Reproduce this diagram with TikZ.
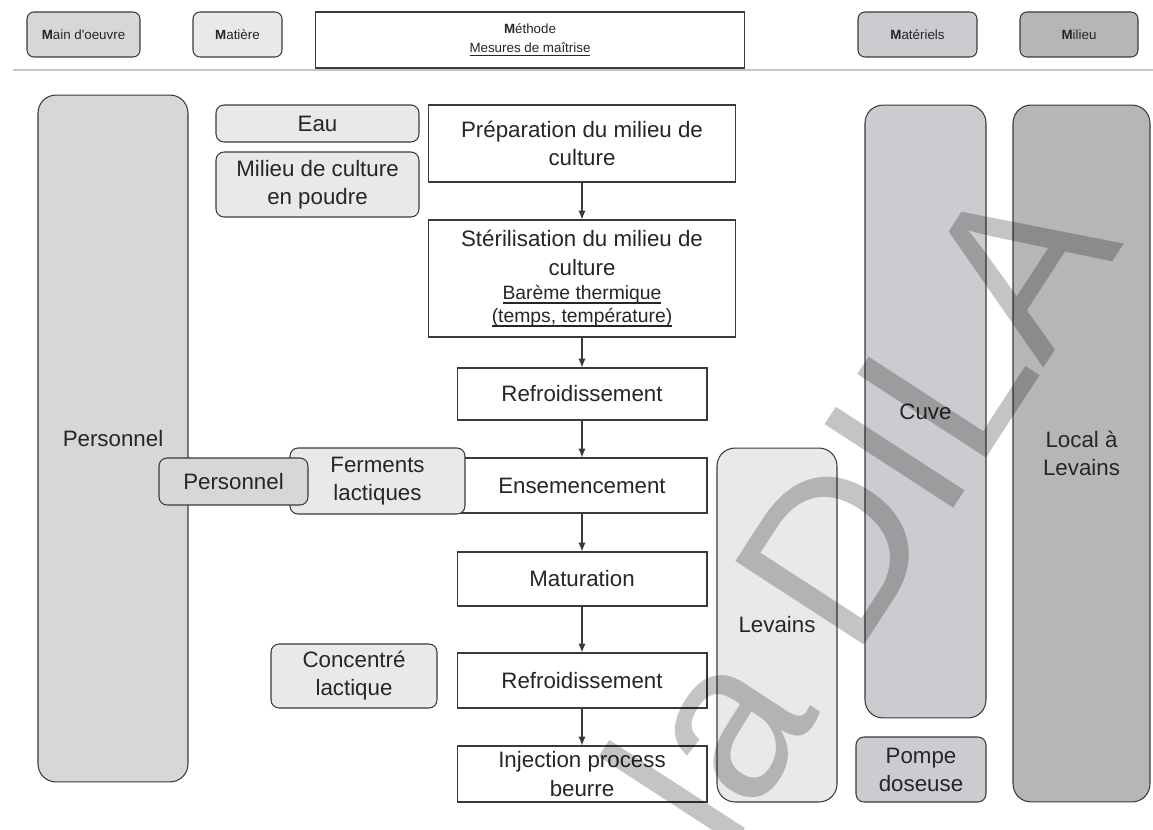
\documentclass[tikz,border=0pt]{standalone}
\usepackage{fontspec}
\setmainfont{Liberation Sans}
\usetikzlibrary{arrows.meta}
\definecolor{mainoeuvre}{HTML}{D6D7D9}
\definecolor{matiere}{HTML}{E8E9EA}
\definecolor{materiel}{HTML}{CBCCCF}
\definecolor{milieu}{HTML}{B5B6B8}
\definecolor{trait}{HTML}{3A3A3A}
\newcommand{\corps}{\fontsize{12.7}{16}\selectfont}
\newcommand{\petit}{\fontsize{11}{14}\selectfont}
\newcommand{\souligne}[1]{\leavevmode\setbox0=\hbox{#1}\rlap{\vrule height -1.3pt depth 2.3pt width \wd0}\box0}

\begin{document}
\begin{tikzpicture}[x=0.02cm, y=-0.02cm, line width=0.6pt,
  every node/.style={draw=trait, inner sep=0pt, align=center, text=black!85, font=\corps},
  entete/.style={rounded corners=0.14cm, minimum height=0.9cm, font=\fontsize{7.6}{10.8}\selectfont},
  etape/.style={fill=white, minimum width=5cm},
  ressource/.style={rounded corners=0.16cm},
  colonne/.style={rounded corners=0.36cm},
  fleche/.style={draw=trait, -{Latex[length=5pt,width=4pt]}}]
\useasboundingbox (0,0) rectangle (1153,829);
\clip (0,0) rectangle (1153,829);
\node[entete, fill=mainoeuvre, minimum width=2.26cm] (hMain) at (83.5,34.5) {\textbf{M}ain d\textquotesingle oeuvre};
\node[entete, fill=matiere, minimum width=1.78cm] (hMatiere) at (237.5,34.5) {\textbf{M}atière};
\node[entete, rounded corners=0pt, fill=white, minimum width=8.6cm, minimum height=1.12cm] (hMethode) at (530,40) {\textbf{M}éthode\\\souligne{Mesures de maîtrise}};
\node[entete, fill=materiel, minimum width=2.38cm] (hMateriel) at (917.5,34.5) {\textbf{M}atériels};
\node[entete, fill=milieu, minimum width=2.36cm] (hMilieu) at (1079,34.5) {\textbf{M}ilieu};
\draw[gray!45, line width=0.8pt] (13,70) -- (1153,70);
\node[colonne, fill=mainoeuvre, minimum width=3cm, minimum height=13.74cm] (personnel) at (113,438.5) {Personnel};
\node[ressource, fill=matiere, minimum width=4.06cm, minimum height=0.74cm] (eau) at (317.5,123.5) {Eau};
\node[ressource, fill=matiere, minimum width=4.06cm, minimum height=1.3cm] (poudre) at (317.5,184.5) {Milieu de culture\\en poudre};
\node[etape, minimum width=6.14cm, minimum height=1.54cm] (prep) at (582,143.5) {Préparation du milieu de\\culture};
\node[etape, minimum width=6.14cm, minimum height=2.34cm] (steril) at (582,278.5) {Stérilisation du milieu de\\culture\\[-2pt]{\petit\souligne{Barème thermique}}\\[-3pt]{\petit\souligne{(temps, température)}}};
\node[etape, minimum height=1.04cm] (refroid1) at (582,394) {Refroidissement};
\node[etape, minimum height=1.1cm] (ensem) at (582,485.5) {Ensemencement};
\node[etape, minimum height=1.08cm] (matur) at (582,579) {Maturation};
\node[etape, minimum height=1.1cm] (refroid2) at (582,680.5) {Refroidissement};
\node[etape, minimum height=1.12cm] (inject) at (582,774) {Injection process\\beurre};
\node[ressource, fill=matiere, minimum width=3.5cm, minimum height=1.32cm] (ferments) at (377.5,481) {Ferments\\lactiques};
\node[ressource, fill=mainoeuvre, minimum width=2.98cm, minimum height=0.94cm] (personnel2) at (233.5,481.5) {Personnel};
\node[ressource, fill=matiere, minimum width=3.32cm, minimum height=1.28cm] (concentre) at (354,676) {Concentré\\lactique};
\node[colonne, fill=matiere, minimum width=2.4cm, minimum height=7.08cm] (levains) at (777,625) {Levains};
\node[colonne, fill=materiel, minimum width=2.42cm, minimum height=12.26cm] (cuve) at (925.5,411.5) {Cuve};
\node[ressource, fill=materiel, minimum width=2.6cm, minimum height=1.3cm] (pompe) at (921,769.5) {Pompe\\doseuse};
\node[colonne, fill=milieu, minimum width=2.74cm, minimum height=13.94cm] (local) at (1081.5,453.5) {Local à\\Levains};
\draw[fleche] (prep) -- (steril);
\draw[fleche] (steril) -- (refroid1);
\draw[fleche] (refroid1) -- (ensem);
\draw[fleche] (ensem) -- (matur);
\draw[fleche] (matur) -- (refroid2);
\draw[fleche] (refroid2) -- (inject);
\node[draw=none, opacity=0.23, text=black, rotate=57, anchor=base west, font=\fontsize{127}{127}\selectfont] (filigrane) at (726,858) {la DILA};
\end{tikzpicture}
\end{document}
